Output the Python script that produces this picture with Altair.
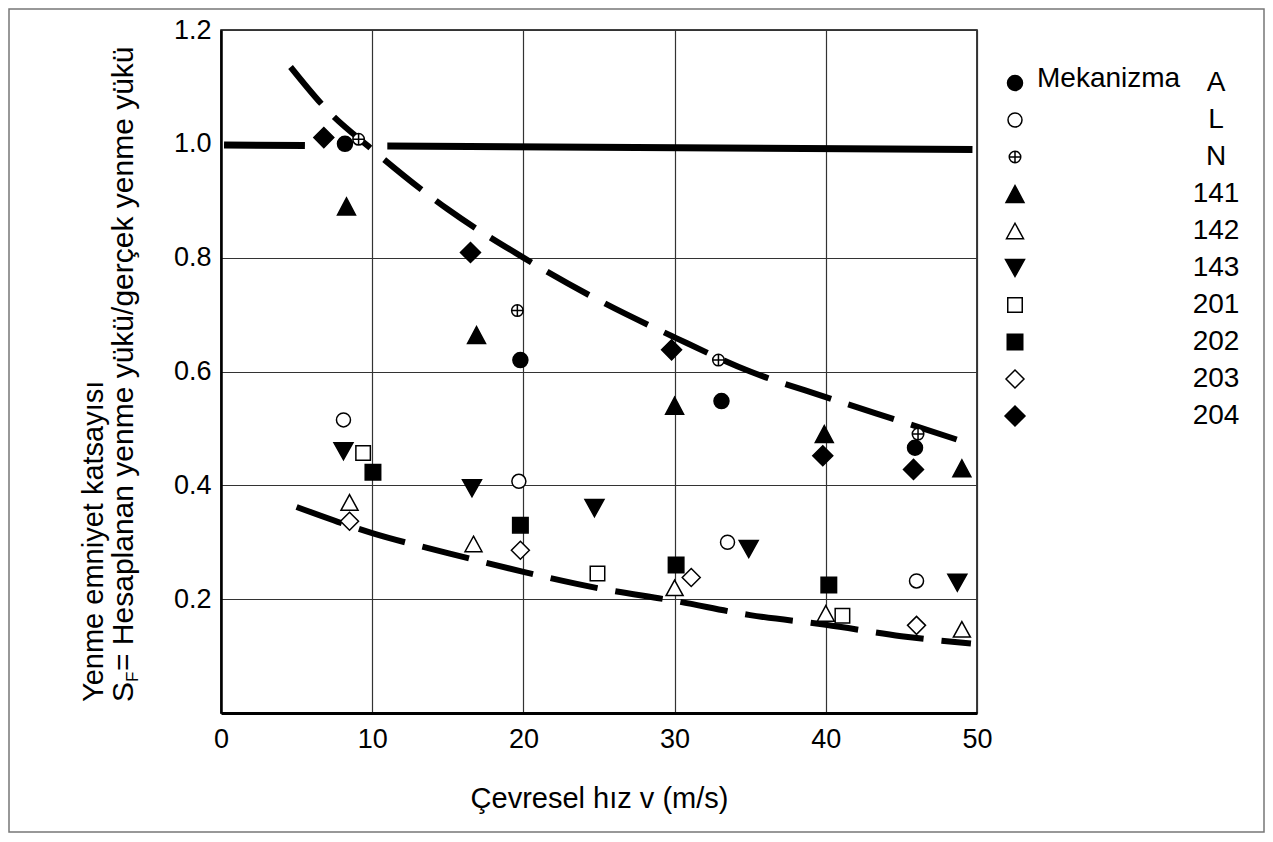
import altair as alt
import pandas as pd

# ---------------- data ----------------
mek_order = ["A", "L", "N", "141", "142", "143", "201", "202", "203", "204"]

A_v = [8.2, 19.8, 33.1, 45.9]
A_sf = [1.0, 0.62, 0.548, 0.466]
L_v = [8.1, 19.7, 33.5, 46.0]
L_sf = [0.515, 0.407, 0.30, 0.232]
N_v = [9.1, 19.6, 32.9, 46.1]
N_sf = [1.008, 0.707, 0.62, 0.49]
m141_v = [8.3, 16.9, 30.0, 39.9, 49.0]
m141_sf = [0.89, 0.664, 0.54, 0.49, 0.43]
m142_v = [8.5, 16.7, 30.0, 40.0, 49.0]
m142_sf = [0.37, 0.297, 0.22, 0.175, 0.147]
m143_v = [8.1, 16.6, 24.7, 34.9, 48.7]
m143_sf = [0.46, 0.395, 0.36, 0.288, 0.229]
m201_v = [9.4, 24.9, 41.1]
m201_sf = [0.457, 0.245, 0.171]
m202_v = [10.05, 19.8, 30.1, 40.2]
m202_sf = [0.423, 0.33, 0.26, 0.225]
m203_v = [8.5, 19.8, 31.1, 46.0]
m203_sf = [0.337, 0.286, 0.238, 0.154]
m204_v = [6.8, 16.5, 29.8, 39.8, 45.8]
m204_sf = [1.011, 0.809, 0.638, 0.452, 0.428]

# curves
upper_v = [4.6, 7, 10, 15, 20, 25, 30, 35, 40, 45, 49.3]
upper_sf = [1.135, 1.06, 0.99, 0.885, 0.80, 0.725, 0.66, 0.60, 0.555, 0.512, 0.475]
lower_v = [5, 10, 15, 20, 25, 30, 35, 40, 45, 49.6]
lower_sf = [0.362, 0.316, 0.281, 0.248, 0.219, 0.197, 0.172, 0.155, 0.135, 0.122]
# S_F = 1 line, drawn in two pieces (gap around the first markers)
unity_seg = ["a", "a", "b", "b"]
unity_v = [0.2, 5.55, 11.0, 49.7]
unity_sf = [0.998, 0.997, 0.996, 0.99]

x_ticks = [0, 10, 20, 30, 40, 50]
y_ticks = [0.2, 0.4, 0.6, 0.8, 1.0, 1.2]

x_title = "Çevresel hız v (m/s)"
y_title_1 = "Yenme emniyet katsayısı"
y_title_S = "S"
y_title_F = "F"
y_title_rest = "= Hesaplanan yenme yükü/gerçek yenme yükü"
legend_title = "Mekanizma"

# marker styling
shape_paths = [
    "M-1.5,0A1.5,1.5,0,1,1,1.5,0A1.5,1.5,0,1,1,-1.5,0Z",
    "M-1.4,0A1.4,1.4,0,1,1,1.4,0A1.4,1.4,0,1,1,-1.4,0Z",
    "M-1.15,0A1.15,1.15,0,1,1,1.15,0A1.15,1.15,0,1,1,-1.15,0ZM-1.15,0L1.15,0M0,-1.15L0,1.15",
    "M0,-1.7L1.8,1.7L-1.8,1.7Z",
    "M0,-1.55L1.7,1.55L-1.7,1.55Z",
    "M0,1.7L1.9,-1.7L-1.9,-1.7Z",
    "M-1.45,-1.45L1.45,-1.45L1.45,1.45L-1.45,1.45Z",
    "M-1.55,-1.55L1.55,-1.55L1.55,1.55L-1.55,1.55Z",
    "M0,-1.8L1.8,0L0,1.8L-1.8,0Z",
    "M0,-2L2,0L0,2L-2,0Z",
]
fill_colors = ["black", "white", "white", "black", "white",
               "black", "white", "black", "white", "black"]
stroke_colors = ["black"] * 10

# ---------------- tables ----------------
series = [
    ("A", A_v, A_sf), ("L", L_v, L_sf), ("N", N_v, N_sf),
    ("141", m141_v, m141_sf), ("142", m142_v, m142_sf), ("143", m143_v, m143_sf),
    ("201", m201_v, m201_sf), ("202", m202_v, m202_sf), ("203", m203_v, m203_sf),
    ("204", m204_v, m204_sf),
]
rows = []
for name, vs, sfs in series:
    for v, s in zip(vs, sfs):
        rows.append({"v": v, "sf": s, "mek": name})
pts = pd.DataFrame(rows)

upper_df = pd.DataFrame({"v": upper_v, "sf": upper_sf})
lower_df = pd.DataFrame({"v": lower_v, "sf": lower_sf})
unity_df = pd.DataFrame({"v": unity_v, "sf": unity_sf, "seg": unity_seg})

FONT = "Liberation Sans"

x_enc = alt.X(
    "v:Q",
    scale=alt.Scale(domain=[0, 50], nice=False, zero=False),
    axis=alt.Axis(
        values=x_ticks, title=x_title, titleFontSize=29, titleFontWeight="normal",
        titlePadding=32, labelFontSize=27, labelPadding=13, ticks=False,
        domainWidth=3, domainColor="black", gridColor="#333333", gridWidth=1.2,
        labelFlush=False, labelColor="black", titleColor="black", format="d",
    ),
)
y_enc = alt.Y(
    "sf:Q",
    scale=alt.Scale(domain=[0, 1.2], nice=False, zero=False),
    axis=alt.Axis(
        values=y_ticks, title=None, labelFontSize=27, labelPadding=10, ticks=False,
        domainWidth=2.5, domainColor="black", gridColor="#333333", gridWidth=1.2,
        gridOpacity={"condition": {"test": "abs(datum.value - 1) < 0.01", "value": 0}, "value": 1},
        labelFlush=False, labelColor="black", format=".1f",
    ),
)

upper = alt.Chart(upper_df).mark_line(
    color="black", strokeWidth=6, strokeDash=[48, 18], interpolate="monotone"
).encode(x=x_enc, y=y_enc)
lower = alt.Chart(lower_df).mark_line(
    color="black", strokeWidth=6, strokeDash=[48, 18], interpolate="monotone"
).encode(x="v:Q", y="sf:Q")
unity = alt.Chart(unity_df).mark_line(
    color="black", strokeWidth=7
).encode(x="v:Q", y="sf:Q", detail="seg:N")

leg = alt.Legend(
    orient="none", legendX=780, legendY=39, title=None, padding=0,
    labelFontSize=28, labelAlign="center", labelOffset=187, labelColor="black",
    labelFont=FONT, rowPadding=9, symbolSize=100, symbolStrokeWidth=1.5,
    symbolStrokeColor="black", symbolOpacity=1,
)

points = alt.Chart(pts).mark_point(
    filled=True, strokeWidth=1.5, size=100, opacity=1
).encode(
    x="v:Q",
    y="sf:Q",
    shape=alt.Shape("mek:N", scale=alt.Scale(domain=mek_order, range=shape_paths), legend=leg),
    fill=alt.Fill("mek:N", scale=alt.Scale(domain=mek_order, range=fill_colors), legend=leg),
    stroke=alt.Stroke("mek:N", scale=alt.Scale(domain=mek_order, range=stroke_colors), legend=leg),
)

def label(text, x, y, size, angle=0, align="left", baseline="middle"):
    return alt.Chart(pd.DataFrame({"t": [text]})).mark_text(
        fontSize=size, font=FONT, color="black", angle=angle, align=align, baseline=baseline
    ).encode(text="t:N", x=alt.value(x), y=alt.value(y))

ytitle1 = label(y_title_1, -118, 672, 29, angle=270, baseline="alphabetic")
ytitleS = label(y_title_S, -88, 672, 30, angle=270, baseline="alphabetic")
ytitleF = label(y_title_F, -83, 652, 17, angle=270, baseline="alphabetic")
ytitleR = label(y_title_rest, -88, 641, 30, angle=270, baseline="alphabetic")
legtitle = label(legend_title, 816, 49, 28)

frame = alt.Chart(pd.DataFrame({"t": [legend_title]})).mark_rect(
    fill="white", fillOpacity=0, stroke="#777777", strokeWidth=1.5
).encode(x=alt.value(-212), x2=alt.value(1043), y=alt.value(-21), y2=alt.value(802))

chart = alt.layer(
    frame, upper, lower, unity, points, ytitle1, ytitleS, ytitleF, ytitleR, legtitle
).properties(
    width=756, height=683,
    padding={"left": 213, "top": 22, "right": 288, "bottom": 121},
    autosize=alt.AutoSizeParams(type="none"),
).configure(
    font=FONT,
).configure_view(
    stroke="black", strokeWidth=1.5
)

chart.save("out.html", embed_options={"renderer": "svg", "actions": False})
